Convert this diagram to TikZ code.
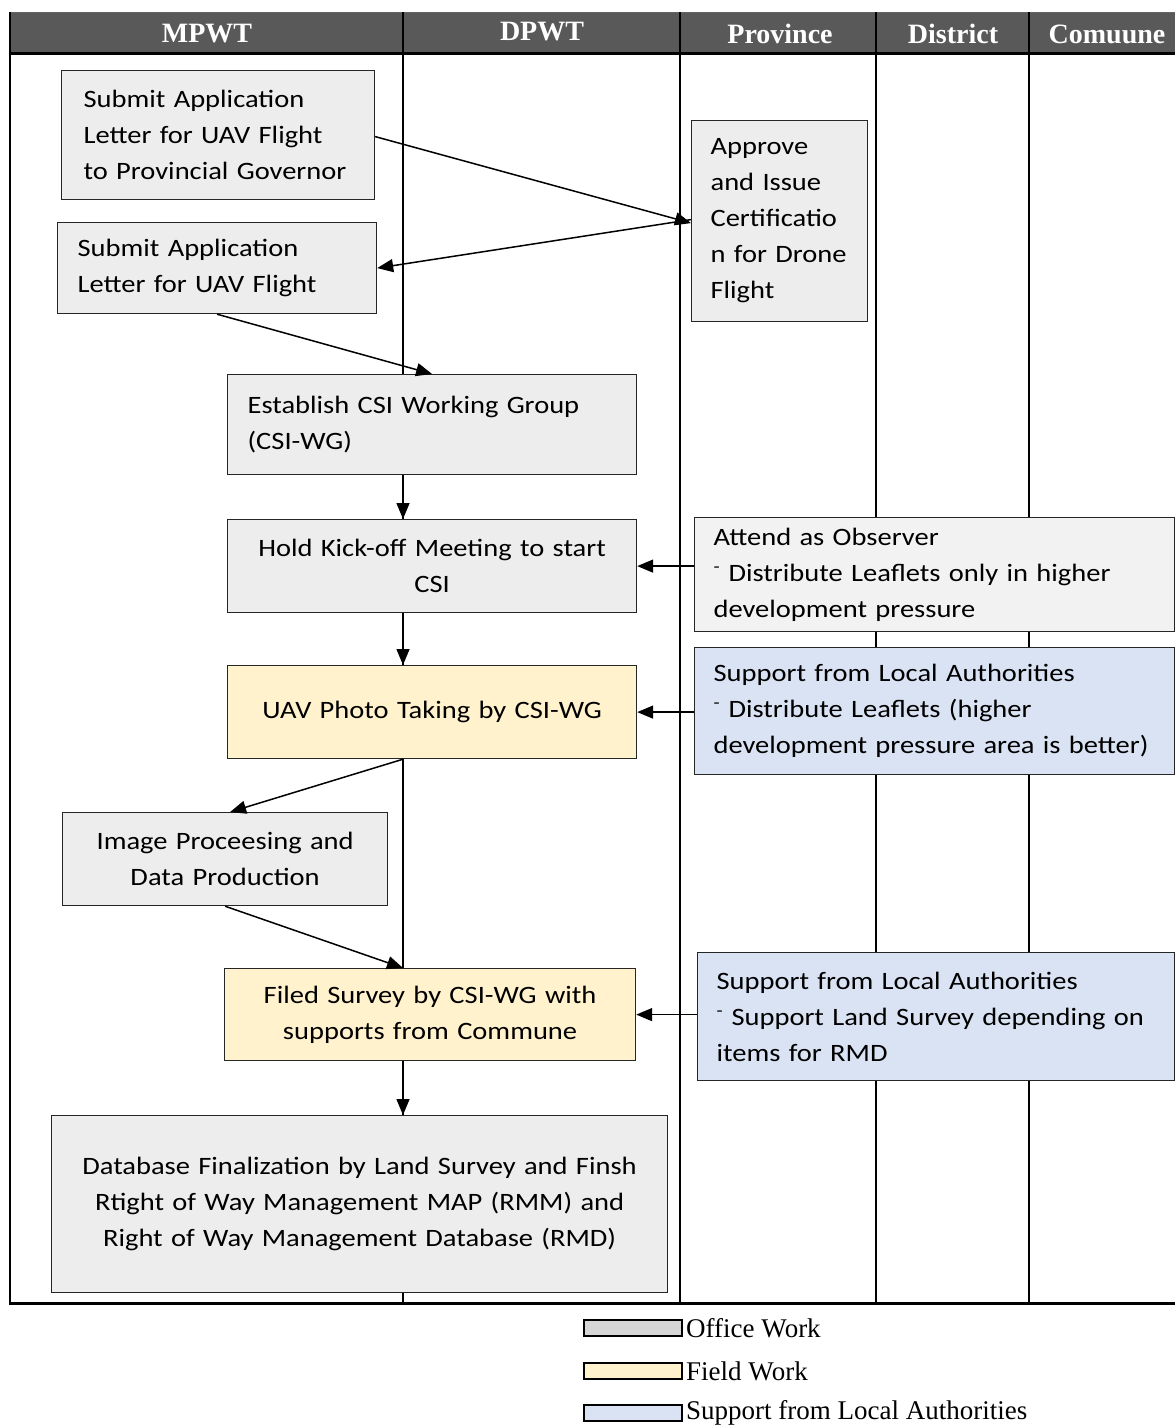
\documentclass[tikz,border=0pt]{standalone}
\usepackage{fontspec}
\setmainfont{Liberation Serif}
\newfontfamily\boxfont[FakeStretch=1.14]{Carlito}
\usetikzlibrary{arrows.meta,calc}
\definecolor{hdr}{HTML}{595959}
\definecolor{officefill}{HTML}{EDEDED}
\definecolor{attendfill}{HTML}{F2F2F2}
\definecolor{fieldfill}{HTML}{FFF2CC}
\definecolor{supportfill}{HTML}{DAE3F3}
\definecolor{legoffice}{HTML}{D6D6D6}
\definecolor{boxline}{HTML}{262626}
\newcommand{\sdash}{\textsuperscript{-}}
\begin{document}
\begin{tikzpicture}[x=1pt,y=-1pt,
  box/.style={draw=boxline, line width=1.2pt, anchor=north west, inner ysep=0pt,
    font=\boxfont\fontsize{25}{36}\selectfont, text=black},
  office/.style={box, fill=officefill},
  attend/.style={box, fill=attendfill},
  field/.style={box, fill=fieldfill},
  support/.style={box, fill=supportfill},
  arr/.style={line width=1.5pt, -{Triangle[length=16pt,width=13pt]}},
  lane/.style={line width=2pt},
  hdrtext/.style={text=white, font=\fontsize{28}{30}\selectfont\bfseries, inner sep=0pt},
  legbox/.style={draw=black, line width=2pt, minimum width=98pt, minimum height=16pt, inner sep=0pt},
  legtext/.style={font=\fontsize{27}{30}\selectfont, anchor=west, inner sep=0pt}]
\useasboundingbox (0,0) rectangle (1175,1427);
\fill[white] (0,0) rectangle (1175,1427);

% header
\fill[hdr] (10,12) rectangle (1175,53);
\draw[line width=0.8pt, black!60] (10,12) -- (1175,12);
\node[hdrtext] (hMPWT) at (207,34) {MPWT};
\node[hdrtext] (hDPWT) at (542,32) {DPWT};
\node[hdrtext] (hProv) at (780,34) {Province};
\node[hdrtext] (hDist) at (953,34) {District};
\node[hdrtext] (hCom) at (1107,34) {Comuune};

% lanes
\coordinate (L) at (403,0);
\draw[lane] (403,12) -- (403,1303);
\draw[lane] (680,12) -- (680,1303);
\draw[lane] (876,12) -- (876,1303);
\draw[lane] (1029,12) -- (1029,1303);
\draw[line width=2.5pt] (10,12) -- (10,1304.5);
\draw[line width=3pt] (8.75,53) -- (1175,53);
\draw[line width=3pt] (8.75,1303) -- (1175,1303);

% boxes
\node[office, minimum width=313pt, minimum height=129pt, inner xsep=22pt, text width=269pt, align=left] (b1) at (61,70)
  {Submit Application\\Letter for UAV Flight\\to Provincial Governor};
\node[office, minimum width=319pt, minimum height=91pt, inner xsep=20pt, text width=279pt, align=left] (b2) at (57,222)
  {Submit Application\\Letter for UAV Flight};
\node[office, minimum width=176pt, minimum height=201pt, inner xsep=19pt, text width=138pt, align=left] (b3) at (691,120)
  {Approve\\and Issue\\Certificatio\\n for Drone\\Flight};
\node[office, minimum width=409pt, minimum height=100pt, inner xsep=20pt, text width=369pt, align=left] (b4) at (227,374)
  {Establish CSI Working Group\\(CSI-WG)};
\node[office, minimum width=409pt, minimum height=93pt, inner xsep=20pt, text width=369pt, align=center] (b5) at (227,519)
  {Hold Kick-off Meeting to start\\CSI};
\node[attend, minimum width=480pt, minimum height=114pt, inner xsep=19pt, text width=442pt, align=left] (b6) at (694,517)
  {Attend as Observer\\\sdash\ Distribute Leaflets only in higher\\development pressure};
\node[field, minimum width=409pt, minimum height=93pt, inner xsep=20pt, text width=369pt, align=center] (b7) at (227,665)
  {UAV Photo Taking by CSI-WG};
\node[support, minimum width=480pt, minimum height=127pt, inner xsep=19pt, text width=442pt, align=left] (b8) at (694,647)
  {Support from Local Authorities\\\sdash\ Distribute Leaflets (higher\\development pressure area is better)};
\node[office, minimum width=325pt, minimum height=93pt, inner xsep=20pt, text width=285pt, align=center] (b9) at (62,812)
  {Image Proceesing and\\Data Production};
\node[field, minimum width=411pt, minimum height=92pt, inner xsep=20pt, text width=371pt, align=center] (b10) at (224,968)
  {Filed Survey by CSI-WG with\\supports from Commune};
\node[support, minimum width=477pt, minimum height=128pt, inner xsep=19pt, text width=439pt, align=left] (b11) at (697,952)
  {Support from Local Authorities\\\sdash\ Support Land Survey depending on\\items for RMD};
\node[office, minimum width=616pt, minimum height=177pt, inner xsep=14pt, text width=588pt, align=center] (b12) at (51,1115)
  {Database Finalization by Land Survey and Finsh\\Rtight of Way Management MAP (RMM) and\\Right of Way Management Database (RMD)};

% connectors
\draw[arr] ([yshift=-1.5pt]b1.east) -- ([yshift=-2pt]b3.west);
\draw[arr] ([yshift=1.5pt]b3.west) -- (b2.east);
\draw[arr] (b2.south) -- (b4.north);
\draw[arr] (b4.south -| L) -- (b5.north -| L);
\draw[arr] (b6.west |- b5.east) -- (b5.east);
\draw[arr] (b5.south -| L) -- (b7.north -| L);
\draw[arr] (b8.west |- b7.east) -- (b7.east);
\draw[arr] (b7.south -| L) -- ([xshift=5pt]b9.north);
\draw[arr] (b9.south) -- (b10.north -| L);
\draw[arr] (b11.west |- b10.east) -- (b10.east);
\draw[arr] (b10.south -| L) -- (b12.north -| L);

% legend
\node[legbox, fill=legoffice] (lg1) at (633,1328) {};
\node[legtext] (lt1) at ([xshift=3pt]lg1.east) {Office Work};
\node[legbox, fill=fieldfill] (lg2) at (633,1371) {};
\node[legtext] (lt2) at ([xshift=3pt]lg2.east) {Field Work};
\node[legbox, fill=supportfill] (lg3) at (633,1413) {};
\node[legtext] (lt3) at ([xshift=3pt]lg3.east) {Support from Local Authorities};
\end{tikzpicture}
\end{document}
